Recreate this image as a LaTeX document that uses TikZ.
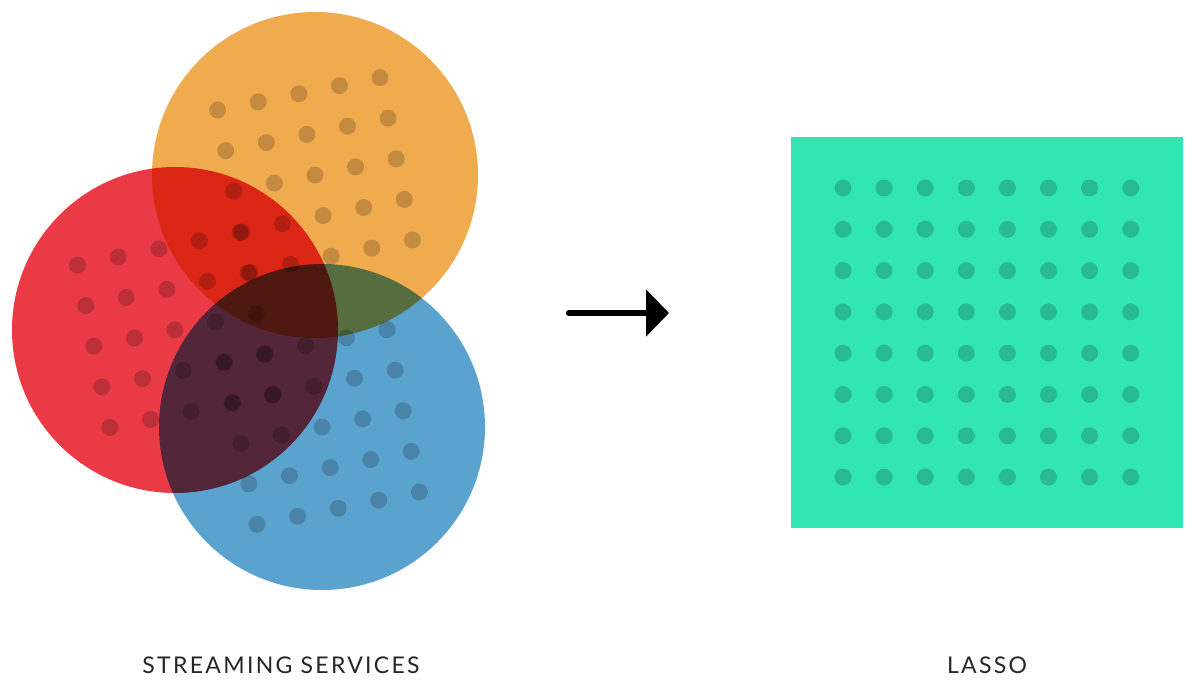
\documentclass[tikz,border=0pt]{standalone}
\usepackage{fontspec}
\setmainfont{Lato}[LetterSpace=10]
\usetikzlibrary{arrows.meta,calc}
\definecolor{corange}{RGB}{241,171,79}
\definecolor{cred}{RGB}{233,58,69}
\definecolor{cblue}{RGB}{91,163,207}
\definecolor{cteal}{RGB}{50,230,180}
\tikzset{
  disc/.style={blend mode=multiply, draw=none},
  dot/.style={fill=black, fill opacity=0.19, draw=none},
  label/.style={font=\fontsize{23}{26}\selectfont, text=black!85, inner sep=0pt, anchor=base},
  pointer/.style={line width=6.5pt, line cap=round, -{Triangle[length=23pt,width=46pt]}}
}
\begin{document}
\begin{tikzpicture}[x=1pt,y=-1pt]
\useasboundingbox (0,0) rectangle (1200,690);
% circles
\coordinate (co) at (315,175);
\coordinate (cr) at (175,330);
\coordinate (cb) at (322,427);
\fill[disc, corange] (co) circle[radius=163];
\fill[disc, cred] (cr) circle[radius=163];
\fill[disc, cblue] (cb) circle[radius=163];
% dot grids on circles
\foreach \cc in {co,cr,cb}{
  \foreach \r in {-2,...,2}{
    \foreach \c in {-2,...,2}{
      \fill[dot] ($(\cc)+(\c*40.6+\r*8.1, -\c*8.1+\r*40.6)$) circle[radius=8.5];
    }
  }
}
% arrow
\coordinate (as) at (569,313);
\coordinate (ae) at (669,313);
\draw[pointer] (as) -- (ae);
% square
\fill[cteal] (791,137) rectangle (1183,528);
\foreach \r in {0,...,7}{
  \foreach \c in {0,...,7}{
    \fill[dot] ({843+\c*41.1},{188+\r*41.3}) circle[radius=8.5];
  }
}
% labels
\node[label] (lbl1) at (281,673) {STREAMING SERVICES};
\node[label] (lbl2) at (987,673) {LASSO};
\end{tikzpicture}
\end{document}
